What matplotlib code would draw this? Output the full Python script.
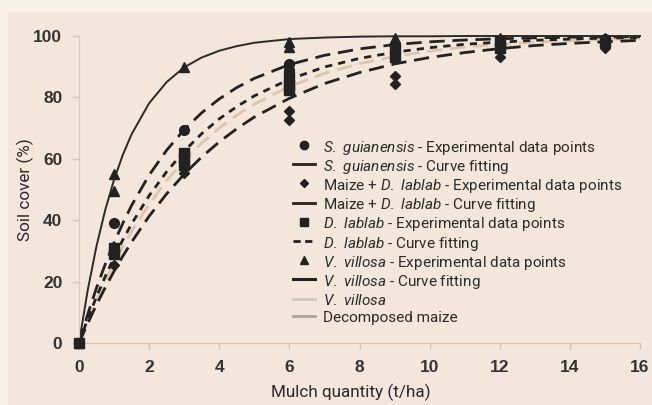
import matplotlib
matplotlib.use("Agg")
import matplotlib.pyplot as plt
from matplotlib.lines import Line2D
from matplotlib.patches import Rectangle

plt.rcParams['mathtext.fontset'] = 'custom'
plt.rcParams['mathtext.rm'] = 'Roboto'
plt.rcParams['mathtext.it'] = 'Roboto:italic'

# measured points (t/ha -> % soil cover)
sg_x = [0, 1, 3, 6, 6, 9, 12, 15]
sg_y = [0, 39, 69.5, 91, 89, 95, 98, 99]
mdl_x = [0, 1, 3, 6, 6, 9, 9, 12, 15]
mdl_y = [0, 25.5, 55.5, 75.5, 72.5, 87, 84.5, 93, 96]
dl_x = [0, 1, 1, 3, 3, 3, 6, 6, 6, 9, 9, 12, 12, 15]
dl_y = [0, 31, 29, 62, 60, 58, 86.5, 84, 82.5, 96, 93, 98.5, 96, 98]
vv_x = [0, 1, 1, 3, 6, 6, 9, 12, 15]
vv_y = [0, 55, 49.5, 90, 98, 96.5, 99.5, 99.5, 99.5]

# fitted curves
curve_x = [0, 0.25, 0.5, 0.75, 1, 1.25, 1.5, 2, 2.5, 3, 3.5, 4, 4.5, 5,
           6, 7, 8, 9, 10, 11, 12, 13, 14, 15, 16]
vv_fit = [0, 17.3, 31.6, 43.4, 53.2, 61.3, 68.0, 78.1, 85.0, 89.8, 93.0, 95.2,
          96.7, 97.8, 99.0, 99.5, 99.8, 99.9, 99.9, 100, 100, 100, 100, 100, 100]
sg_fit = [0, 9.4, 18.0, 25.7, 32.7, 39.0, 44.8, 54.7, 62.8, 69.5, 75.0, 79.5,
          83.2, 86.2, 90.7, 93.7, 95.8, 97.2, 98.1, 98.7, 99.1, 99.4, 99.6, 99.7, 99.8]
dl_fit = [0, 7.9, 15.1, 21.7, 27.9, 33.6, 38.8, 48.0, 55.8, 62.5, 68.2, 73.0,
          77.0, 80.5, 85.9, 89.9, 92.7, 94.7, 96.2, 97.3, 98.0, 98.6, 99.0, 99.3, 99.5]
dm_fit = [0, 7.3, 14.0, 20.2, 26.0, 31.3, 36.3, 45.2, 52.9, 59.5, 65.1, 70.0,
          74.2, 77.8, 83.6, 87.8, 91.0, 93.3, 95.1, 96.4, 97.3, 98.0, 98.5, 98.9, 99.2]
mdl_fit = [0, 6.4, 12.5, 18.1, 23.4, 28.3, 32.9, 41.3, 48.6, 55.0, 60.6, 65.5,
           69.8, 73.6, 79.7, 84.5, 88.1, 90.9, 93.0, 94.6, 95.9, 96.9, 97.6, 98.1, 98.6]

x_ticks = [0, 2, 4, 6, 8, 10, 12, 14, 16]
y_ticks = [0, 20, 40, 60, 80, 100]

outer_bg = '#f8f1e7'
inner_bg = '#f3e6db'
tan = '#dfc5a9'
ink = '#222222'

fig = plt.figure(figsize=(6.52, 4.05), dpi=100, facecolor=outer_bg)
fig.patches.append(Rectangle((8 / 652, 0), 1, 1 - 12 / 405, transform=fig.transFigure,
                             facecolor=inner_bg, edgecolor='none', zorder=-5))
ax = fig.add_axes([79 / 652, 1 - 343 / 405, (640 - 79) / 652, (343 - 36) / 405])
ax.set_facecolor('none')

long_dash = (0, (5.5, 2.8))
short_dash = (0, (2.6, 2.2))

ax.plot(curve_x, dm_fit, color=tan, lw=2, ls=long_dash, clip_on=False)
ax.plot(curve_x, mdl_fit, color=ink, lw=2, ls=long_dash, clip_on=False)
ax.plot(curve_x, dl_fit, color=ink, lw=2, ls=short_dash, clip_on=False)
ax.plot(curve_x, sg_fit, color=ink, lw=2, ls=long_dash, clip_on=False)
ax.plot(curve_x, vv_fit, color='#2a2a2a', lw=1.4, clip_on=False)

ax.plot(sg_x, sg_y, 'o', color=ink, ms=7, clip_on=False, zorder=4)
ax.plot(mdl_x, mdl_y, 'D', color=ink, ms=5.5, clip_on=False, zorder=4)
ax.plot(dl_x, dl_y, 's', color=ink, ms=6.5, clip_on=False, zorder=4)
ax.plot(vv_x, vv_y, '^', color=ink, ms=7, clip_on=False, zorder=4)

ax.set_xlim(0, 16)
ax.set_ylim(0, 100)
ax.set_xticks(x_ticks)
ax.set_yticks(y_ticks)
for s in ['top', 'right']:
    ax.spines[s].set_visible(False)
ax.spines['left'].set_color('#d6cabd')
ax.spines['bottom'].set_color('#dcc3a8')
ax.tick_params(axis='y', colors='#d6cabd', length=5, width=1, pad=7)
ax.tick_params(axis='x', colors='#dcc3a8', length=4, width=1, pad=8)
for lab in ax.get_xticklabels() + ax.get_yticklabels():
    lab.set_color('#333333')
    lab.set_fontweight('bold')
    lab.set_fontsize(12.5)
    lab.set_family('Liberation Sans')

ax.set_xlabel('Mulch quantity (t/ha)', family='Roboto', fontsize=12.3,
              color='#2a2a2a')
ax.xaxis.set_label_coords(0.485, -0.16)
ax.xaxis.label.set_va('center')
ax.set_ylabel('Soil cover (%)', family='Roboto', fontsize=12.3,
              color='#2a2a2a')
ax.yaxis.set_label_coords(-0.096, 0.5)
ax.yaxis.label.set_va('center')

labels = [
    r'$\mathit{S.\ guianensis}$ - Experimental data points',
    r'$\mathit{S.\ guianensis}$ - Curve fitting',
    r'Maize + $\mathit{D.\ lablab}$ - Experimental data points',
    r'Maize + $\mathit{D.\ lablab}$ - Curve fitting',
    r'$\mathit{D.\ lablab}$ - Experimental data points',
    r'$\mathit{D.\ lablab}$ - Curve fitting',
    r'$\mathit{V.\ villosa}$ - Experimental data points',
    r'$\mathit{V.\ villosa}$ - Curve fitting',
    r'$\mathit{V.\ villosa}$',
    'Decomposed maize',
]
handles = [
    Line2D([], [], ls='none', marker='o', color=ink, ms=6),
    Line2D([], [], color=ink, lw=2),
    Line2D([], [], ls='none', marker='D', color=ink, ms=4.5),
    Line2D([], [], color=ink, lw=2),
    Line2D([], [], ls='none', marker='s', color=ink, ms=5.5),
    Line2D([], [], color=ink, lw=2, ls=(0, (2.6, 1.6))),
    Line2D([], [], ls='none', marker='^', color=ink, ms=6),
    Line2D([], [], color=ink, lw=2.2),
    Line2D([], [], color='#c9c9c7', lw=2),
    Line2D([], [], color='#a4a4a2', lw=2),
]
leg = ax.legend(handles, labels, loc='upper left', bbox_to_anchor=(0.381, 0.666),
                frameon=False, handlelength=1.45, handleheight=1.23,
                handletextpad=0.5, labelspacing=0.07, borderpad=0, borderaxespad=0,
                prop={'family': 'Roboto', 'size': 11})
for t in leg.get_texts():
    t.set_color('#2b2b2b')

fig.savefig('out.png', dpi=100, facecolor=outer_bg)
